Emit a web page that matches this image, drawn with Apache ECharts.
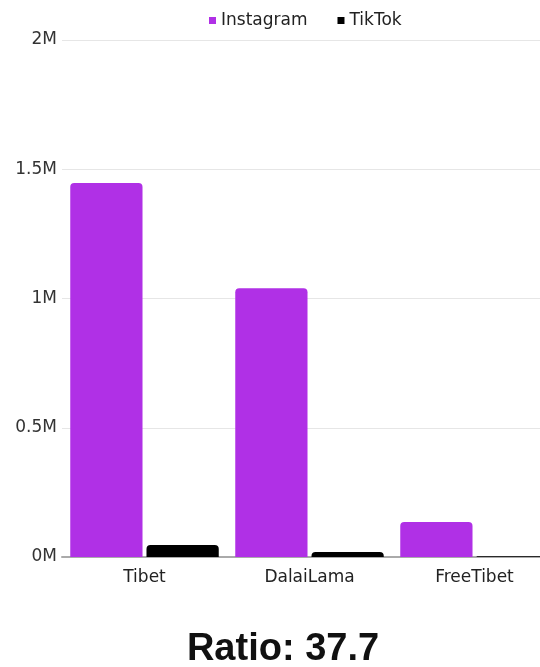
<!DOCTYPE html>
<html><head><meta charset="utf-8">
<script src="https://cdn.jsdelivr.net/npm/echarts@6/dist/echarts.min.js"></script>
<style>html,body{margin:0;padding:0;background:#fff;overflow:hidden;width:540px;height:667px}#c{width:580px;height:667px}</style>
</head><body><div id="c"></div>
<script>
const categories = ['Tibet', 'DalaiLama', 'FreeTibet'];
const instagram = [1447000, 1040000, 135000];
const tiktok = [46000, 19000, 3000];
const yTicks = ['0M', '0.5M', '1M', '1.5M', '2M'];
const titleText = 'Ratio: 37.7';

const font = '"DejaVu Sans", sans-serif';
const chart = echarts.init(document.getElementById('c'));
chart.setOption({
  animation: false,
  title: {
    text: titleText, left: 278, textAlign: 'center', top: 626,
    textStyle: { fontFamily: '"Liberation Sans", Arial, sans-serif', fontSize: 38, fontWeight: 'bold', color: '#111' }
  },
  legend: {
    top: 7, left: 204, itemWidth: 7, itemHeight: 7, itemGap: 30, icon: 'rect',
    textStyle: { fontFamily: font, fontSize: 17, color: '#222' }
  },
  grid: { left: 62, right: 23, top: 40, bottom: 110, containLabel: false },
  xAxis: {
    type: 'category', data: categories,
    axisLine: { lineStyle: { color: '#aaa', width: 2 } },
    axisTick: { show: false },
    axisLabel: { fontFamily: font, fontSize: 17, color: '#222', margin: 12 }
  },
  yAxis: {
    type: 'value', min: 0, max: 2000000, interval: 500000,
    axisLabel: {
      fontFamily: font, fontSize: 17, color: '#333', margin: 5,
      formatter: v => yTicks[Math.round(v / 500000)]
    },
    splitLine: { lineStyle: { color: '#e6e6e6', width: 1 } }
  },
  series: [
    { name: 'Instagram', type: 'bar', data: instagram, barGap: '5.5%', barCategoryGap: '10%',
      itemStyle: { color: '#B030E6', borderRadius: [4, 4, 0, 0] } },
    { name: 'TikTok', type: 'bar', data: tiktok,
      itemStyle: { color: '#000000', borderRadius: [4, 4, 0, 0] } }
  ]
});
</script></body></html>
